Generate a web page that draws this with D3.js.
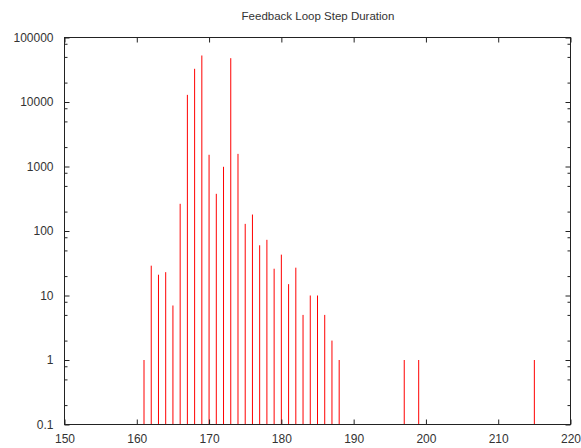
<!DOCTYPE html>
<html>
<head>
<meta charset="utf-8">
<script src="https://cdn.jsdelivr.net/npm/d3@7"></script>
<style>
  html, body { margin: 0; padding: 0; background: #fff; }
  svg { display: block; }
  text { font-family: "Liberation Sans", Arial, sans-serif; fill: #333; }
</style>
</head>
<body>
<script>
// ---- data ----
const durations = [161, 162, 163, 164, 165, 166, 167, 168, 169, 170, 171, 172, 173, 174, 175,
                   176, 177, 178, 179, 180, 181, 182, 183, 184, 185, 186, 187, 188, 197, 199, 215];
const counts    = [1, 29, 21, 23, 7, 264, 12900, 32700, 52600, 1520, 377, 990, 47800, 1570, 129,
                   180, 60, 73, 26, 43, 15, 27, 5, 10, 10, 5, 2, 1, 1, 1, 1];
const xTicks = [150, 160, 170, 180, 190, 200, 210, 220];
const yTicks = [0.1, 1, 10, 100, 1000, 10000, 100000];
const yTickLabels = ["0.1", "1", "10", "100", "1000", "10000", "100000"];
const minorMultipliers = [2, 5, 8];
const chartTitle = "Feedback Loop Step Duration";

// ---- layout ----
const W = 581, H = 448;
const mLeft = 64.5, mRight = 570.5, mTop = 37.5, mBottom = 424.5;

const svg = d3.select("body").append("svg").attr("width", W).attr("height", H);

const x = d3.scaleLinear().domain([150, 220]).range([mLeft, mRight]);
const y = d3.scaleLog().domain([0.1, 100000]).range([mBottom, mTop]);

const minorTicks = [];
yTicks.slice(0, -1).forEach(p => minorMultipliers.forEach(m => minorTicks.push(p * m)));

// impulses
svg.append("g").selectAll("line").data(durations).join("line")
  .attr("x1", d => x(d)).attr("x2", d => x(d))
  .attr("y1", y(0.1))
  .attr("y2", (d, i) => y(counts[i]))
  .attr("stroke", "#ff0000")
  .attr("stroke-width", 1);

const axisColor = "#222";
function styleAxis(g) {
  g.select(".domain").remove();
  g.selectAll(".tick line").attr("stroke", axisColor);
  g.selectAll(".tick text").attr("font-size", 12).attr("fill", "#333")
    .attr("font-family", '"Liberation Sans", Arial, sans-serif');
}

// bottom axis
svg.append("g").attr("transform", `translate(0,${mBottom})`)
  .call(d3.axisBottom(x).tickValues(xTicks).tickFormat(d3.format("d")).tickSizeInner(-5).tickSizeOuter(0).tickPadding(10))
  .call(styleAxis);
// top axis (ticks only)
svg.append("g").attr("transform", `translate(0,${mTop})`)
  .call(d3.axisTop(x).tickValues(xTicks).tickFormat("").tickSizeInner(-5).tickSizeOuter(0))
  .call(styleAxis);
// left axis
svg.append("g").attr("transform", `translate(${mLeft},0)`)
  .call(d3.axisLeft(y).tickValues(yTicks).tickFormat((d, i) => yTickLabels[i]).tickSizeInner(-5).tickSizeOuter(0).tickPadding(11))
  .call(styleAxis);
svg.append("g").attr("transform", `translate(${mLeft},0)`)
  .call(d3.axisLeft(y).tickValues(minorTicks).tickFormat("").tickSizeInner(-3).tickSizeOuter(0))
  .call(styleAxis);
// right axis
svg.append("g").attr("transform", `translate(${mRight},0)`)
  .call(d3.axisRight(y).tickValues(yTicks).tickFormat("").tickSizeInner(-5).tickSizeOuter(0))
  .call(styleAxis);
svg.append("g").attr("transform", `translate(${mRight},0)`)
  .call(d3.axisRight(y).tickValues(minorTicks).tickFormat("").tickSizeInner(-3).tickSizeOuter(0))
  .call(styleAxis);

// border
svg.append("rect")
  .attr("x", mLeft).attr("y", mTop)
  .attr("width", mRight - mLeft).attr("height", mBottom - mTop)
  .attr("fill", "none").attr("stroke", axisColor).attr("stroke-width", 1);

// title
svg.append("text")
  .attr("x", 318).attr("y", 19.5)
  .attr("text-anchor", "middle")
  .attr("font-size", 11.5)
  .text(chartTitle);
</script>
</body>
</html>
